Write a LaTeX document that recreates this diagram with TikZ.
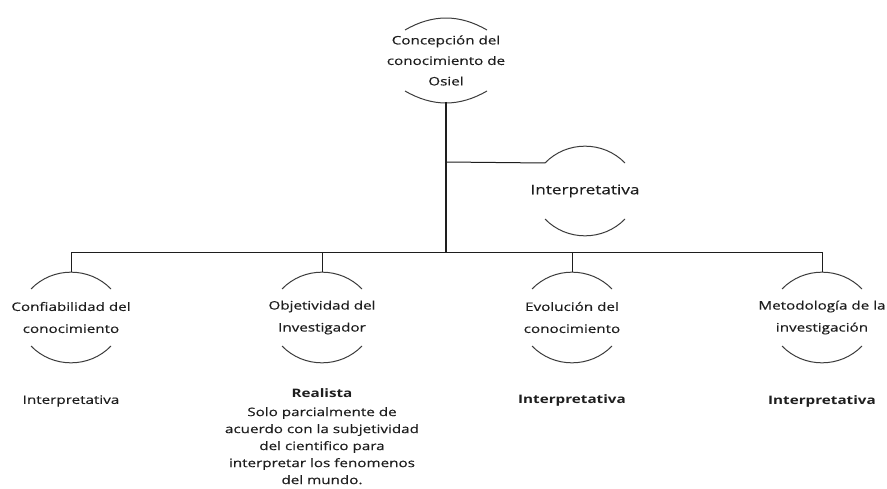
\documentclass[tikz,border=0pt]{standalone}
\usepackage{fontspec}
\setmainfont{Open Sans}[FakeStretch=1.3,FakeBold=0.35,BoldFeatures={FakeBold=0}]
\usetikzlibrary{calc}
\definecolor{ink}{HTML}{1E1E1E}
\definecolor{rim}{HTML}{3C3C3C}
\begin{document}
\begin{tikzpicture}[x=1pt,y=-1pt,
  title/.style={align=center,inner sep=0pt,text=ink,
    font=\fontsize{11.7}{22}\selectfont},
  toptitle/.style={title,font=\fontsize{11.7}{20.5}\selectfont},
  bigtitle/.style={title,font=\fontsize{13.2}{16}\selectfont},
  verdict/.style={align=center,inner sep=0pt,text=ink,
    font=\fontsize{11.7}{17}\selectfont},
  boldverdict/.style={verdict,font=\fontsize{11.7}{17}\selectfont\bfseries},
  rimline/.style={draw=rim,line width=1pt},
  link/.style={draw=ink,line width=1pt},
  trunk/.style={draw=ink,line width=1.8pt}]
\useasboundingbox[fill=white] (0,0) rectangle (887,489);

% centres of the open circles
\coordinate (ctop) at (446,60.5);
\coordinate (cint) at (585,191);
\coordinate (c1) at (71,317.5);
\coordinate (c2) at (322,317.5);
\coordinate (c3) at (572,317.5);
\coordinate (c4) at (822,317.5);

% open circles: an upper and a lower arc round each title
\draw[rimline] ($(ctop)+(-41,-30.5)$) to[bend left=30] ($(ctop)+(41,-30.5)$);
\draw[rimline] ($(ctop)+(-41,30.5)$) to[bend right=30] ($(ctop)+(41,30.5)$);
\draw[rimline] ($(cint)+(-40,-28)$) to[bend left=46] ($(cint)+(40,-28)$);
\draw[rimline] ($(cint)+(-40,28)$) to[bend right=46] ($(cint)+(40,28)$);
\foreach \c in {c1,c2,c3,c4}{
  \draw[rimline] ($(\c)+(-40,-28.5)$) to[bend left=46] ($(\c)+(40,-28.5)$);
  \draw[rimline] ($(\c)+(-40,28.5)$) to[bend right=46] ($(\c)+(40,28.5)$);
}

% titles
\node[toptitle] (top) at (ctop) {Concepción del\\conocimiento de\\Osiel};
\node[bigtitle] (int) at (cint) {Interpretativa};
\node[title] (t1) at (c1) {Confiabilidad del\\conocimiento};
\node[title] (t2) at (c2) {Objetividad del\\Investigador};
\node[title] (t3) at (c3) {Evolución del\\conocimiento};
\node[title] (t4) at (c4) {Metodología de la\\investigación};

% verdicts under each branch
\node[verdict] (v1) at (71,401) {Interpretativa};
\node[boldverdict] (v2) at (322,393) {Realista};
\node[verdict,anchor=north] (v2b) at (322,407) {Solo parcialmente de\\acuerdo con la subjetividad\\del cientifico para\\interpretar los fenomenos\\del mundo.};
\node[boldverdict] (v3) at (572,400) {Interpretativa};
\node[boldverdict] (v4) at (822,401) {Interpretativa};

% connectors
\coordinate (toparc) at ($(ctop)+(0,41.5)$);
\coordinate (bus) at (446,253);
\coordinate (fork) at (446,162);
\coordinate (intarc) at ($(cint)+(-40,-28)$);
\draw[trunk] (toparc) -- (bus);
\draw[link] (fork) -- (intarc);
\foreach \c in {c1,c2,c3,c4}{
  \draw[link] ($(\c)+(0,-45.5)$) |- (bus);
}
\end{tikzpicture}
\end{document}
